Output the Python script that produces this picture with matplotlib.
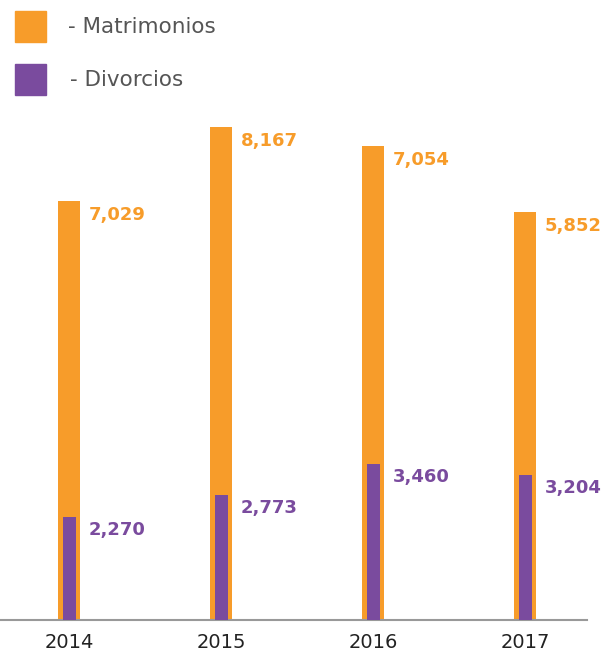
import matplotlib.pyplot as plt
from matplotlib.patches import Rectangle

years = ['2014', '2015', '2016', '2017']
matrimonios = [7029, 8167, 7054, 5852]
divorcios = [2270, 2773, 3460, 3204]

orange = '#F79C2A'
purple = '#7A4B9E'

W, H = 605, 651
fig = plt.figure(figsize=(W / 100, H / 100), dpi=100)

# axes placed in pixels: baseline at 619.5 px from top, spans x 0..587
px_per_unit = 0.0450
ax_h = 520
ax = fig.add_axes([0, 31.5 / H, 587 / W, ax_h / H])
ax.set_ylim(0, ax_h / px_per_unit)
ax.set_xlim(-69 / 152, (587 - 69) / 152)

x = list(range(len(years)))
total = [m + d for m, d in zip(matrimonios, divorcios)]
ax.bar(x, total, width=22 / 152, color=orange, zorder=2)
ax.bar(x, divorcios, width=13 / 152, color=purple, zorder=3)

for i in x:
    ax.annotate(f'{matrimonios[i]:,}', xy=(i, total[i]), xytext=(20, -14),
                textcoords='offset pixels', ha='left', va='center',
                fontsize=13, fontweight='bold', color=orange)
    ax.annotate(f'{divorcios[i]:,}', xy=(i, divorcios[i]), xytext=(20, -13),
                textcoords='offset pixels', ha='left', va='center',
                fontsize=13, fontweight='bold', color=purple)

for s in ['top', 'right', 'left']:
    ax.spines[s].set_visible(False)
ax.spines['bottom'].set_color('#999999')
ax.spines['bottom'].set_linewidth(1.5)
ax.set_yticks([])
ax.set_xticks(x)
ax.set_xticklabels(years, fontsize=14, color='#222222')
ax.tick_params(axis='x', length=0, pad=10)
ax.patch.set_alpha(0)

# legend
for y0, col, lab, tx in [(11, orange, '- Matrimonios', 68), (64, purple, '- Divorcios', 70)]:
    fig.patches.append(Rectangle((15 / W, 1 - (y0 + 31) / H), 31 / W, 31 / H,
                                 transform=fig.transFigure, color=col))
    fig.text(tx / W, 1 - (y0 + 16) / H, lab, fontsize=15.5, color='#555555',
             ha='left', va='center')

fig.savefig('out.png', dpi=100)
